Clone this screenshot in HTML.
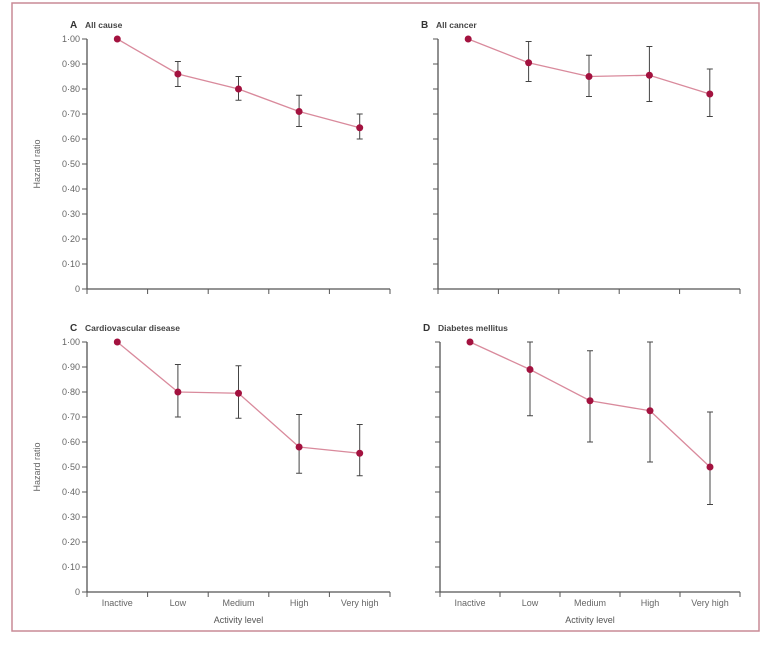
<!DOCTYPE html>
<html><head><meta charset="utf-8"><style>
body{margin:0;background:#fff;width:768px;height:641px;overflow:hidden}
svg{font-family:"Liberation Sans",sans-serif}
</style></head><body>
<svg id="chart" width="768" height="641">
<rect x="12" y="3" width="747" height="628" fill="none" stroke="#c98a96" stroke-width="1.5"/>
</svg>
<script>
const categories=["Inactive","Low","Medium","High","Very high"];
const yTicks=[0,0.1,0.2,0.3,0.4,0.5,0.6,0.7,0.8,0.9,1.0];
const yTickLabels=["0","0·10","0·20","0·30","0·40","0·50","0·60","0·70","0·80","0·90","1·00"];
const titles=["All cause","All cancer","Cardiovascular disease","Diabetes mellitus"];
const letters=["A","B","C","D"];
const hrA=[1.00,0.86,0.80,0.71,0.645];
const loA=[1.00,0.81,0.755,0.65,0.60];
const hiA=[1.00,0.91,0.85,0.775,0.70];
const hrB=[1.00,0.905,0.85,0.855,0.78];
const loB=[1.00,0.83,0.77,0.75,0.69];
const hiB=[1.00,0.99,0.935,0.97,0.88];
const hrC=[1.00,0.80,0.795,0.58,0.555];
const loC=[1.00,0.70,0.695,0.475,0.465];
const hiC=[1.00,0.91,0.905,0.71,0.67];
const hrD=[1.00,0.89,0.765,0.725,0.50];
const loD=[1.00,0.705,0.60,0.52,0.35];
const hiD=[1.00,1.00,0.965,1.00,0.72];
const series=[[hrA,loA,hiA],[hrB,loB,hiB],[hrC,loC,hiC],[hrD,loD,hiD]];
const panels=[{x0:87,x1:390,yb:289,yt:39,ylab:true,xlab:false},{x0:438,x1:740,yb:289,yt:39,ylab:false,xlab:false},
{x0:87,x1:390,yb:592,yt:342,ylab:true,xlab:true},{x0:440,x1:740,yb:592,yt:342,ylab:false,xlab:true}];
const svg=document.getElementById('chart');const NS="http://www.w3.org/2000/svg";
function mk(t,a,txt){const e=document.createElementNS(NS,t);for(const k in a)e.setAttribute(k,a[k]);if(txt!==undefined)e.textContent=txt;svg.appendChild(e);return e;}
panels.forEach((p,i)=>{
 const n=categories.length,w=(p.x1-p.x0)/n;
 const xs=j=>p.x0+w*(j+0.5);
 const ys=v=>p.yb-(p.yb-p.yt)*v;
 let e=mk('line',{x1:p.x0,y1:p.yb,x2:p.x0,y2:p.yt,stroke:'#555','stroke-width':1.3});
 
 e=mk('line',{x1:p.x0,y1:p.yb,x2:p.x1,y2:p.yb,stroke:'#555','stroke-width':1.3});
 
 yTicks.forEach((t,k)=>{
  e=mk('line',{x1:p.x0-5,y1:ys(t),x2:p.x0,y2:ys(t),stroke:'#555'});
  
  if(p.ylab){e=mk('text',{x:p.x0-7,y:ys(t)+3,'font-size':9,fill:'#666','text-anchor':'end'},yTickLabels[k]);
  }
 });
 for(let j=0;j<=n;j++){e=mk('line',{x1:p.x0+w*j,y1:p.yb,x2:p.x0+w*j,y2:p.yb+5,stroke:'#555'});
  }
 if(p.xlab){categories.forEach((c,j)=>{e=mk('text',{x:xs(j),y:p.yb+14,'font-size':9,fill:'#666','text-anchor':'middle'},c);
  });
  e=mk('text',{x:(p.x0+p.x1)/2,y:p.yb+31,'font-size':9,fill:'#555','text-anchor':'middle'},'Activity level');
  }
 if(p.ylab){const cy=(p.yt+p.yb)/2;e=mk('text',{x:40,y:cy,'font-size':9,fill:'#666','text-anchor':'middle',transform:`rotate(-90 40 ${cy})`},'Hazard ratio');
  }
 e=mk('text',{x:p.x0-17,y:p.yt-11,'font-size':10,'font-weight':'bold',fill:'#333'},letters[i]);
 
 e=mk('text',{x:p.x0-2,y:p.yt-11,'font-size':8.5,'font-weight':'bold',fill:'#444'},titles[i]);
 
 const [hr,lo,hi]=series[i];
 hr.forEach((v,j)=>{if(hi[j]!==lo[j]){
  e=mk('line',{x1:xs(j),y1:ys(lo[j]),x2:xs(j),y2:ys(hi[j]),stroke:'#444','stroke-width':1});
  
  [lo[j],hi[j]].forEach(b=>{e=mk('line',{x1:xs(j)-3,y1:ys(b),x2:xs(j)+3,y2:ys(b),stroke:'#444'});
   });}});
 e=mk('polyline',{points:hr.map((v,j)=>xs(j)+','+ys(v)).join(' '),fill:'none',stroke:'#d98a9c','stroke-width':1.3});
 
 hr.forEach((v,j)=>{e=mk('circle',{cx:xs(j),cy:ys(v),r:3.5,fill:'#a3123f'});
  });
});
</script>
</body></html>
